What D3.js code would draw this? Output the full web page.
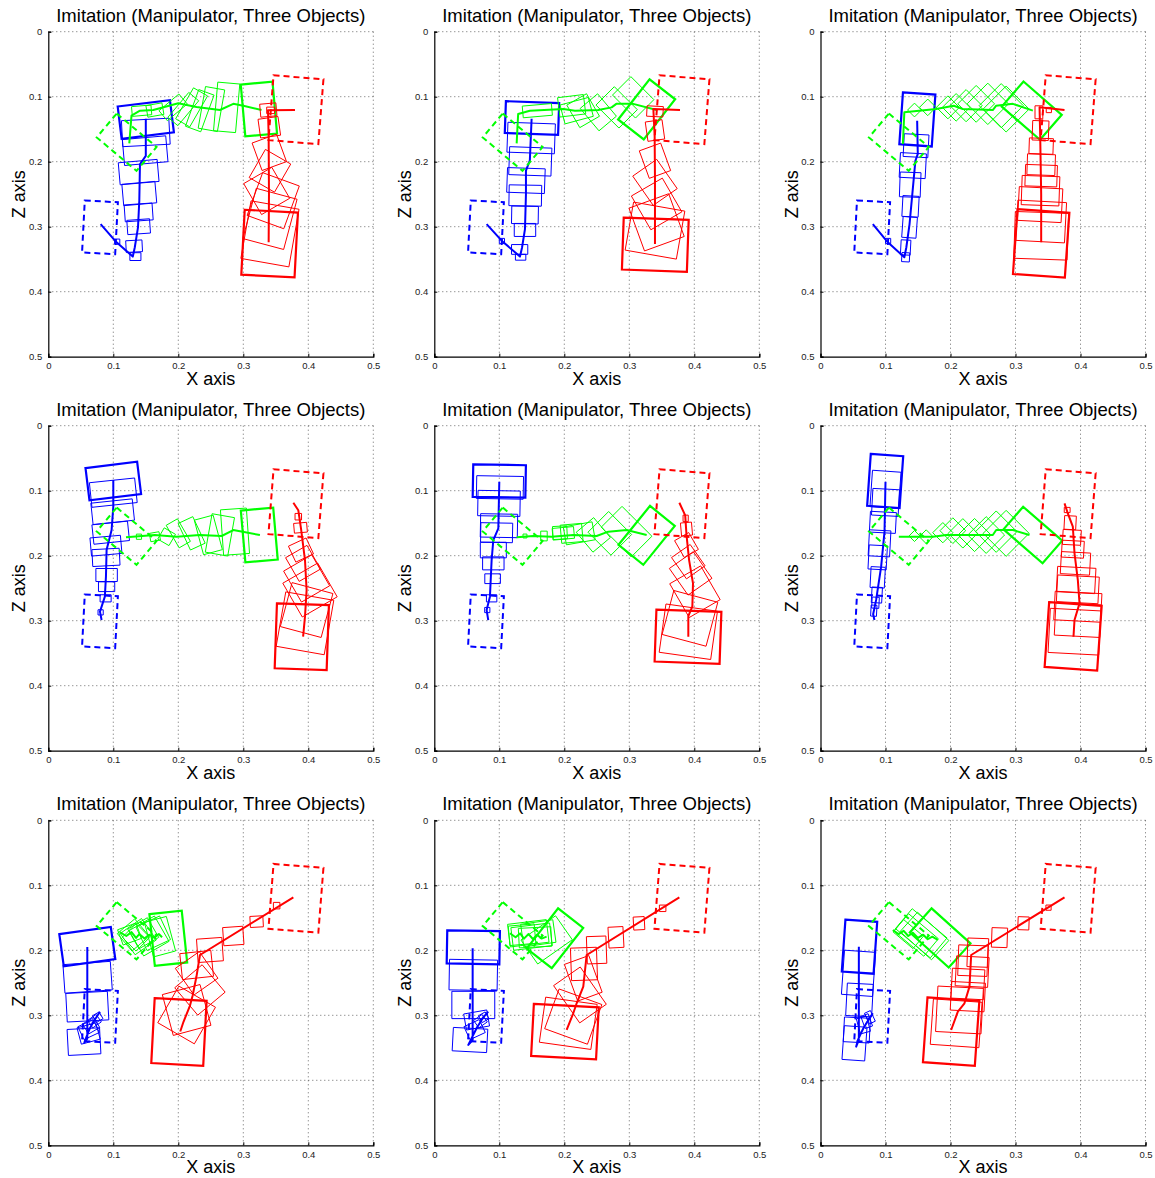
<!DOCTYPE html>
<html>
<head>
<meta charset="utf-8">
<script src="https://cdn.jsdelivr.net/npm/d3@7"></script>
<style>
  body { margin: 0; background: #fff; }
  svg { display: block; }
</style>
</head>
<body>
<div id="chart"></div>
<script>
// ---- data (x, z in metres; boxes are [cx, cz, width, height, angleDeg]) ----
const xTicks = [0, 0.1, 0.2, 0.3, 0.4, 0.5]
const zTicks = [0, 0.1, 0.2, 0.3, 0.4, 0.5]
const panelTitle = 'Imitation (Manipulator, Three Objects)'

// dashed start poses, same in every panel
const blueTarget = [0.0795, 0.301, 0.051, 0.080, 3]
const greenTarget = [0.1205, 0.170, 0.080, 0.048, 40]
const redTarget = [0.381, 0.120, 0.077, 0.100, 4.5]

// per panel, last box of each list is the final (thick) pose
const blueBoxes = [
  [[0.106,0.323,0.008,0.008,0],[0.134,0.346,0.017,0.012,0],[0.132,0.330,0.025,0.018,-3],[0.139,0.300,0.035,0.022,-4],[0.139,0.278,0.043,0.026,-4],[0.140,0.249,0.051,0.033,-5],[0.139,0.216,0.060,0.034,-5],[0.149,0.183,0.067,0.040,-5],[0.150,0.155,0.073,0.040,-3],[0.150,0.135,0.081,0.050,-7]],
  [[0.104,0.322,0.008,0.008,0],[0.1328,0.347,0.016,0.009,0],[0.1313,0.335,0.025,0.015,0],[0.1395,0.305,0.033,0.02,0],[0.1395,0.282,0.041,0.027,1],[0.14,0.252,0.05,0.032,1],[0.141,0.229,0.058,0.038,2],[0.1477,0.1995,0.065,0.043,2],[0.149,0.1636,0.073,0.046,2],[0.1503,0.1328,0.082,0.049,2]],
  [[0.104,0.322,0.008,0.008,0],[0.131,0.347,0.012,0.014,3],[0.131,0.332,0.015,0.023,3],[0.137,0.301,0.022,0.032,4],[0.1385,0.2687,0.025,0.032,3],[0.138,0.2354,0.032,0.038,2],[0.142,0.206,0.04,0.038,3],[0.147,0.1754,0.038,0.035,3],[0.149,0.1349,0.05,0.08,4]],
  [[0.0805,0.2872,0.008,0.008,0],[0.0882,0.2656,0.017,0.011,0],[0.0897,0.2477,0.025,0.015,0],[0.0897,0.2297,0.033,0.02,0],[0.0887,0.2026,0.042,0.026,-3],[0.0887,0.1846,0.047,0.028,-5],[0.096,0.1646,0.055,0.03,-6],[0.099,0.1323,0.064,0.033,-6],[0.1,0.103,0.07,0.038,-6],[0.1,0.0851,0.08,0.05,-7]],
  [[0.0815,0.2836,0.008,0.008,0],[0.0882,0.2656,0.016,0.011,0],[0.0897,0.2354,0.024,0.015,0],[0.0908,0.2118,0.033,0.02,0],[0.0908,0.1913,0.04,0.024,0],[0.0959,0.1646,0.049,0.03,1],[0.0995,0.1538,0.057,0.036,1],[0.0995,0.1195,0.065,0.039,1],[0.101,0.095,0.072,0.035,1],[0.1,0.0851,0.081,0.05,1]],
  [[0.082,0.2846,0.009,0.017,3],[0.0846,0.2723,0.011,0.017,3],[0.0867,0.2605,0.016,0.024,3],[0.088,0.2333,0.022,0.032,3],[0.088,0.2026,0.028,0.037,3],[0.0908,0.181,0.033,0.04,3],[0.096,0.1487,0.04,0.032,3],[0.1,0.118,0.041,0.041,3],[0.1,0.098,0.044,0.056,4],[0.0995,0.0851,0.05,0.08,4]],
  [[0.076,0.303,0.012,0.012,-30],[0.071,0.309,0.016,0.014,-35],[0.066,0.316,0.02,0.018,-30],[0.062,0.322,0.026,0.022,-25],[0.062,0.328,0.03,0.026,-15],[0.0549,0.3405,0.05,0.04,-3],[0.06,0.2867,0.064,0.044,-3],[0.0605,0.2415,0.073,0.044,-4],[0.06,0.1944,0.08,0.05,-8]],
  [[0.076,0.303,0.012,0.012,-30],[0.071,0.309,0.016,0.014,-35],[0.0651,0.3072,0.036,0.025,-10],[0.062,0.322,0.026,0.022,-25],[0.0549,0.338,0.053,0.036,3],[0.06,0.2841,0.066,0.042,0],[0.06,0.238,0.074,0.047,1],[0.06,0.1954,0.081,0.051,1]],
  [[0.076,0.303,0.01,0.018,-25],[0.071,0.309,0.012,0.02,-20],[0.066,0.315,0.016,0.024,-15],[0.0559,0.3226,0.04,0.038,3],[0.0523,0.3431,0.035,0.052,4],[0.06,0.2764,0.04,0.05,3],[0.0585,0.2354,0.048,0.068,4],[0.06,0.1944,0.049,0.08,4]]
]

const bluePaths = [
  [[0.0805,0.296],[0.105,0.324],[0.130,0.346],[0.133,0.332],[0.138,0.301],[0.140,0.260],[0.141,0.204],[0.150,0.191],[0.150,0.134]],
  [[0.0805,0.296],[0.1036,0.3215],[0.1318,0.346],[0.135,0.332],[0.1395,0.3036],[0.141,0.25],[0.141,0.2138],[0.147,0.198],[0.1497,0.134]],
  [[0.0805,0.296],[0.1036,0.324],[0.129,0.347],[0.132,0.332],[0.137,0.296],[0.1446,0.2138],[0.146,0.1985],[0.1497,0.188],[0.1487,0.137]],
  [[0.082,0.299],[0.0795,0.286],[0.087,0.263],[0.0887,0.232],[0.0897,0.191],[0.0974,0.1605],[0.1,0.1246],[0.1,0.0836]],
  [[0.083,0.299],[0.0805,0.2836],[0.0856,0.263],[0.0882,0.2067],[0.0908,0.1759],[0.0985,0.158],[0.1,0.0862]],
  [[0.083,0.299],[0.081,0.29],[0.0856,0.268],[0.0933,0.2169],[0.0985,0.163],[0.1,0.0862]],
  [[0.0795,0.2944],[0.076,0.300],[0.072,0.306],[0.074,0.303],[0.068,0.312],[0.070,0.309],[0.064,0.320],[0.061,0.327],[0.058,0.335],[0.0555,0.342],[0.06,0.336],[0.06,0.195]],
  [[0.083,0.2944],[0.078,0.3],[0.074,0.305],[0.076,0.302],[0.07,0.312],[0.072,0.309],[0.066,0.318],[0.062,0.326],[0.058,0.334],[0.0523,0.3456],[0.059,0.338],[0.059,0.197]],
  [[0.0805,0.2969],[0.077,0.302],[0.074,0.306],[0.076,0.304],[0.07,0.313],[0.072,0.31],[0.066,0.32],[0.062,0.328],[0.058,0.337],[0.0549,0.3482],[0.059,0.338],[0.059,0.1944]]
]

const greenBoxes = [
  [[0.1436,0.1215,0.03,0.015,-5],[0.164,0.1205,0.025,0.018,-10],[0.192,0.1164,0.02,0.04,50],[0.2077,0.119,0.02,0.05,40],[0.2205,0.1164,0.025,0.055,30],[0.233,0.1215,0.025,0.06,20],[0.251,0.119,0.03,0.065,10],[0.2744,0.1164,0.034,0.075,5],[0.324,0.119,0.049,0.080,-5]],
  [[0.1585,0.1215,0.045,0.018,-5],[0.2113,0.114,0.04,0.03,-7],[0.219,0.1215,0.045,0.03,-15],[0.229,0.1215,0.035,0.04,-30],[0.2523,0.124,0.035,0.045,-40],[0.2805,0.1164,0.04,0.05,-45],[0.306,0.101,0.04,0.05,-45],[0.3267,0.1195,0.0785,0.050,-52]],
  [[0.1446,0.1205,0.015,0.015,45],[0.165,0.1164,0.018,0.018,45],[0.196,0.1164,0.025,0.025,45],[0.2087,0.1164,0.03,0.03,45],[0.224,0.1138,0.035,0.035,45],[0.2395,0.111,0.04,0.04,45],[0.2574,0.111,0.045,0.045,45],[0.278,0.1138,0.048,0.048,45],[0.2856,0.119,0.05,0.05,45],[0.325,0.1215,0.078,0.051,41]],
  [[0.1395,0.1708,0.008,0.008,0],[0.164,0.1708,0.015,0.013,-10],[0.182,0.1708,0.02,0.02,30],[0.2,0.1656,0.02,0.04,-30],[0.2205,0.1656,0.025,0.045,-25],[0.2462,0.168,0.03,0.055,-15],[0.264,0.168,0.035,0.06,10],[0.2872,0.163,0.04,0.07,-4],[0.3246,0.1682,0.05,0.08,-5]],
  [[0.1395,0.1697,0.006,0.006,0],[0.1687,0.1697,0.01,0.015,0],[0.1933,0.1646,0.022,0.02,-3],[0.1985,0.1656,0.033,0.018,-5],[0.2113,0.1656,0.033,0.028,-5],[0.223,0.1656,0.045,0.028,-10],[0.2446,0.168,0.035,0.04,-40],[0.27,0.1656,0.045,0.05,-45],[0.2959,0.163,0.045,0.065,-45],[0.3267,0.1687,0.077,0.049,-51]],
  [[0.1446,0.1697,0.012,0.012,45],[0.1626,0.1708,0.015,0.015,45],[0.1882,0.1646,0.022,0.022,45],[0.2036,0.1615,0.028,0.028,45],[0.219,0.1656,0.032,0.032,45],[0.237,0.1682,0.036,0.036,45],[0.2549,0.1682,0.04,0.04,45],[0.2703,0.163,0.045,0.045,45],[0.2856,0.1656,0.05,0.05,45],[0.3267,0.1682,0.0796,0.046,41]],
  [[0.125,0.175,0.03,0.025,-20],[0.1308,0.1764,0.035,0.035,-40],[0.135,0.18,0.03,0.03,-45],[0.1385,0.179,0.04,0.04,-35],[0.146,0.1738,0.035,0.035,-30],[0.155,0.178,0.045,0.045,-30],[0.1615,0.1738,0.04,0.04,-25],[0.1718,0.179,0.035,0.055,-15],[0.1846,0.1815,0.05,0.08,-6]],
  [[0.135,0.176,0.04,0.03,-5],[0.1446,0.1738,0.06,0.035,-7],[0.1497,0.179,0.06,0.035,-7],[0.155,0.18,0.05,0.03,-3],[0.16,0.1738,0.05,0.035,-8],[0.1728,0.184,0.065,0.045,-35],[0.1856,0.1815,0.0785,0.049,-52]],
  [[0.135,0.175,0.04,0.025,40],[0.1472,0.1764,0.06,0.035,40],[0.155,0.1738,0.07,0.04,40],[0.16,0.178,0.065,0.04,42],[0.1841,0.181,0.0805,0.05,42]]
]

const greenPaths = [
  [[0.1246,0.1718],[0.128,0.129],[0.141,0.1215],[0.1615,0.1205],[0.2,0.110],[0.228,0.116],[0.264,0.1205],[0.2846,0.111],[0.3,0.1138],[0.328,0.1205]],
  [[0.1267,0.1718],[0.129,0.1267],[0.147,0.1215],[0.1985,0.119],[0.2164,0.1215],[0.2523,0.1205],[0.2728,0.1164],[0.28,0.111],[0.306,0.111],[0.342,0.1205]],
  [[0.1267,0.1728],[0.129,0.124],[0.178,0.119],[0.205,0.114],[0.219,0.119],[0.265,0.1205],[0.27,0.114],[0.296,0.111],[0.3267,0.1215]],
  [[0.1195,0.1718],[0.164,0.1682],[0.197,0.1708],[0.233,0.1682],[0.2667,0.1697],[0.2846,0.1605],[0.3256,0.1682]],
  [[0.1267,0.1718],[0.1523,0.1697],[0.1805,0.1708],[0.2138,0.1682],[0.2497,0.1697],[0.2677,0.163],[0.2959,0.1605],[0.3267,0.1682]],
  [[0.1205,0.1708],[0.1728,0.1708],[0.1933,0.1682],[0.2138,0.1682],[0.2651,0.1682],[0.2703,0.1605],[0.2959,0.1605],[0.3215,0.1682]],
  [[0.110,0.172],[0.12,0.178],[0.128,0.172],[0.135,0.181],[0.14,0.175],[0.148,0.182],[0.155,0.176],[0.162,0.18],[0.17,0.175],[0.175,0.18]],
  [[0.1164,0.1738],[0.125,0.18],[0.132,0.174],[0.138,0.182],[0.145,0.175],[0.152,0.183],[0.158,0.176],[0.165,0.182],[0.1728,0.179]],
  [[0.1113,0.1687],[0.12,0.175],[0.128,0.17],[0.135,0.178],[0.142,0.173],[0.15,0.181],[0.158,0.176],[0.165,0.183],[0.172,0.179],[0.1805,0.1841]]
]

const redBoxes = [
  [[0.342,0.121,0.012,0.01,0],[0.3385,0.1205,0.025,0.02,-5],[0.34,0.147,0.031,0.029,-8],[0.34,0.1856,0.04,0.045,-20],[0.341,0.214,0.045,0.05,30],[0.336,0.245,0.05,0.055,-30],[0.346,0.26,0.06,0.07,20],[0.341,0.288,0.065,0.08,15],[0.341,0.311,0.075,0.09,10],[0.3405,0.326,0.082,0.10,3]],
  [[0.3395,0.1226,0.025,0.016,3],[0.3395,0.152,0.026,0.03,-8],[0.3395,0.1985,0.035,0.045,-20],[0.3395,0.2318,0.045,0.055,-35],[0.342,0.265,0.055,0.06,-30],[0.342,0.2933,0.065,0.07,-20],[0.3395,0.306,0.08,0.075,10],[0.34,0.3277,0.1,0.08,2]],
  [[0.3513,0.1205,0.008,0.008,0],[0.336,0.124,0.012,0.02,0],[0.3385,0.152,0.025,0.03,2],[0.3395,0.176,0.037,0.024,2],[0.3395,0.2046,0.043,0.032,2],[0.3395,0.2215,0.049,0.033,2],[0.3385,0.2446,0.058,0.045,2],[0.338,0.266,0.067,0.052,3],[0.3395,0.292,0.075,0.062,3],[0.3395,0.314,0.082,0.072,2],[0.3395,0.3257,0.08,0.1,4]],
  [[0.3846,0.14,0.01,0.01,0],[0.388,0.157,0.02,0.015,-5],[0.3887,0.1913,0.03,0.027,-25],[0.392,0.2118,0.038,0.042,-30],[0.3974,0.235,0.05,0.055,-30],[0.4026,0.2528,0.062,0.06,-30],[0.3974,0.2836,0.065,0.07,15],[0.3949,0.304,0.075,0.085,10],[0.39,0.3246,0.08,0.1,2]],
  [[0.3867,0.1426,0.008,0.01,0],[0.388,0.159,0.017,0.02,-5],[0.388,0.1836,0.025,0.03,-30],[0.3908,0.2092,0.035,0.04,-35],[0.3944,0.2272,0.045,0.05,-35],[0.401,0.2554,0.055,0.06,-30],[0.3933,0.2964,0.07,0.07,15],[0.3908,0.317,0.08,0.075,8],[0.3903,0.3246,0.1,0.08,2]],
  [[0.3795,0.1297,0.009,0.008,0],[0.3841,0.1492,0.018,0.021,3],[0.3867,0.1718,0.028,0.023,3],[0.3882,0.19,0.034,0.026,3],[0.3923,0.2118,0.045,0.034,3],[0.3933,0.2374,0.059,0.039,3],[0.3959,0.2518,0.064,0.041,3],[0.3959,0.2785,0.072,0.044,3],[0.3959,0.299,0.07,0.05,3],[0.3908,0.3169,0.078,0.068,3],[0.3887,0.3241,0.081,0.1,4]],
  [[0.3513,0.1313,0.01,0.01,0],[0.3205,0.1559,0.02,0.017,-3],[0.2846,0.178,0.031,0.028,-4],[0.2487,0.1995,0.039,0.036,-4],[0.2282,0.2226,0.048,0.04,-6],[0.2282,0.2354,0.045,0.05,-35],[0.2333,0.261,0.055,0.055,-40],[0.2128,0.2918,0.06,0.065,-15],[0.2128,0.2995,0.065,0.065,30],[0.201,0.3256,0.08,0.1,3]],
  [[0.3513,0.1354,0.01,0.01,0],[0.3149,0.1585,0.017,0.02,-3],[0.2795,0.18,0.023,0.032,-3],[0.2497,0.1995,0.03,0.042,-2],[0.2303,0.221,0.04,0.05,-2],[0.2292,0.2431,0.04,0.06,-20],[0.2241,0.2687,0.05,0.07,-35],[0.2138,0.302,0.07,0.065,20],[0.2061,0.3123,0.08,0.07,8],[0.201,0.3251,0.1,0.08,3]],
  [[0.3508,0.1344,0.008,0.008,0],[0.3123,0.1585,0.017,0.02,2],[0.2754,0.1805,0.024,0.03,2],[0.242,0.2036,0.032,0.044,2],[0.2344,0.2159,0.045,0.047,2],[0.2333,0.2328,0.05,0.046,3],[0.2267,0.2518,0.05,0.046,3],[0.2267,0.2713,0.052,0.044,3],[0.2138,0.2918,0.07,0.07,3],[0.2087,0.3123,0.075,0.07,4],[0.201,0.3251,0.08,0.1,4]]
]

const redPaths = [
  [[0.3795,0.1205],[0.338,0.121],[0.339,0.16],[0.3395,0.25],[0.339,0.324]],
  [[0.378,0.1205],[0.337,0.119],[0.339,0.16],[0.3395,0.224],[0.3395,0.3267]],
  [[0.3754,0.1205],[0.337,0.1164],[0.338,0.16],[0.3395,0.25],[0.3395,0.324]],
  [[0.377,0.1185],[0.3846,0.13],[0.389,0.16],[0.3949,0.2067],[0.3974,0.253],[0.3949,0.2938],[0.392,0.3246]],
  [[0.377,0.1185],[0.386,0.138],[0.388,0.168],[0.392,0.2067],[0.398,0.2426],[0.397,0.278],[0.3908,0.293],[0.3908,0.3246]],
  [[0.3754,0.1195],[0.3805,0.135],[0.3882,0.1554],[0.3908,0.1964],[0.3959,0.2374],[0.3985,0.2733],[0.3908,0.299],[0.3892,0.3246]],
  [[0.377,0.1185],[0.2333,0.2072],[0.228,0.24],[0.225,0.255],[0.222,0.27],[0.218,0.285],[0.212,0.3],[0.208,0.31],[0.203,0.325]],
  [[0.377,0.1185],[0.2344,0.2072],[0.2292,0.2559],[0.219,0.2815],[0.2138,0.2969],[0.2036,0.3226]],
  [[0.3754,0.1185],[0.2318,0.2072],[0.2292,0.2559],[0.2215,0.2815],[0.2113,0.2944],[0.201,0.3226]]
]

// ---- layout ----
const W = 1155
const H = 1178
const size = 325
const colLeft = [48.3, 434.3, 820.5]
const rowTop = [31.7, 425.7, 820.3]
const font = 'Liberation Sans, Arial, Helvetica, sans-serif'

const objects = [
  { color: '#0000ff', target: blueTarget, boxes: blueBoxes, paths: bluePaths },
  { color: '#00ff00', target: greenTarget, boxes: greenBoxes, paths: greenPaths },
  { color: '#ff0000', target: redTarget, boxes: redBoxes, paths: redPaths }
]

const svg = d3
  .select('#chart')
  .append('svg')
  .attr('width', W)
  .attr('height', H)
  .style('background', '#fff')

function corners([cx, cz, w, h, deg]) {
  const a = (deg * Math.PI) / 180
  const c = Math.cos(a)
  const s = Math.sin(a)
  return [[-1, -1], [1, -1], [1, 1], [-1, 1]].map(([sx, sy]) => {
    const dx = (sx * w) / 2
    const dy = (sy * h) / 2
    return [cx + dx * c - dy * s, cz + dx * s + dy * c]
  })
}

for (let p = 0; p < 9; p++) {
  const left = colLeft[p % 3]
  const top = rowTop[Math.floor(p / 3)]
  const x = d3.scaleLinear().domain([0, 0.5]).range([left, left + size])
  const z = d3.scaleLinear().domain([0, 0.5]).range([top, top + size])
  const line = d3.line().x((d) => x(d[0])).y((d) => z(d[1]))
  const boxLine = d3.line().x((d) => x(d[0])).y((d) => z(d[1])).curve(d3.curveLinearClosed)

  const g = svg.append('g')

  // dotted grid (also closes the box at top / right)
  g.append('g')
    .selectAll('line.gx')
    .data(xTicks.slice(1))
    .join('line')
    .attr('x1', (d) => x(d)).attr('x2', (d) => x(d))
    .attr('y1', top).attr('y2', top + size)
    .attr('stroke', '#444').attr('stroke-width', 0.8)
    .attr('stroke-dasharray', '1,3')
  g.append('g')
    .selectAll('line.gz')
    .data(zTicks.slice(0, -1))
    .join('line')
    .attr('y1', (d) => z(d)).attr('y2', (d) => z(d))
    .attr('x1', left).attr('x2', left + size)
    .attr('stroke', '#444').attr('stroke-width', 0.8)
    .attr('stroke-dasharray', '1,3')

  // axes
  const xAxis = d3.axisBottom(x).tickValues(xTicks).tickFormat(d3.format('~g')).tickSize(-3).tickPadding(6)
  const zAxis = d3.axisLeft(z).tickValues(zTicks).tickFormat(d3.format('~g')).tickSize(-3).tickPadding(6)
  const ax = g.append('g').attr('transform', `translate(0,${top + size})`).call(xAxis)
  const az = g.append('g').attr('transform', `translate(${left},0)`).call(zAxis)
  for (const a of [ax, az]) {
    a.select('.domain').attr('stroke', '#000').attr('stroke-width', 1.2)
    a.selectAll('.tick line').attr('stroke', '#000')
    a.selectAll('.tick text').attr('font-family', font).attr('font-size', 9.5).attr('fill', '#222')
  }

  // objects
  objects.forEach((o) => {
    const boxes = o.boxes[p]
    g.append('path')
      .attr('d', boxLine(corners(o.target)))
      .attr('fill', 'none').attr('stroke', o.color)
      .attr('stroke-width', 2).attr('stroke-dasharray', '6,4')
    g.append('g')
      .selectAll('path')
      .data(boxes)
      .join('path')
      .attr('d', (b) => boxLine(corners(b)))
      .attr('fill', 'none').attr('stroke', o.color)
      .attr('stroke-width', (b, i) => (i === boxes.length - 1 ? 2.2 : 1))
    g.append('path')
      .attr('d', line(o.paths[p]))
      .attr('fill', 'none').attr('stroke', o.color)
      .attr('stroke-width', 2).attr('stroke-linejoin', 'round')
  })

  // labels
  g.append('text')
    .attr('x', left + size / 2).attr('y', top - 10)
    .attr('text-anchor', 'middle')
    .attr('font-family', font).attr('font-size', 18.5)
    .text(panelTitle)
  g.append('text')
    .attr('x', left + size / 2).attr('y', top + size + 28)
    .attr('text-anchor', 'middle')
    .attr('font-family', font).attr('font-size', 18)
    .text('X axis')
  g.append('text')
    .attr('transform', `translate(${left - 23},${top + size / 2}) rotate(-90)`)
    .attr('text-anchor', 'middle')
    .attr('font-family', font).attr('font-size', 18)
    .text('Z axis')
}
</script>
</body>
</html>
